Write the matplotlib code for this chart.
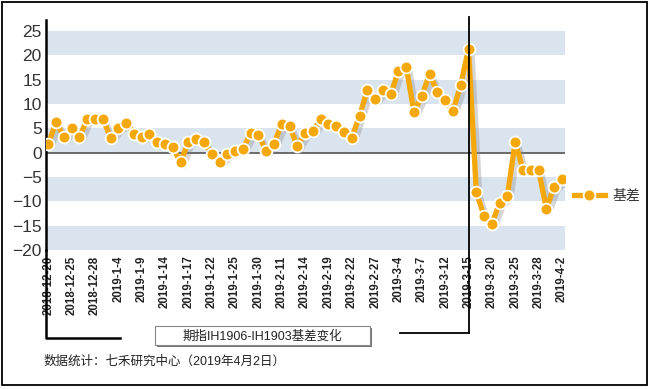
import numpy as np
import matplotlib
matplotlib.use("Agg")
import matplotlib.pyplot as plt
import matplotlib.patheffects as pe
from matplotlib.lines import Line2D
from matplotlib.patches import Rectangle
from matplotlib.transforms import blended_transform_factory

plt.rcParams['font.family'] = ['Liberation Sans', 'Noto Sans CJK SC']

# trading days 2018-12-20 .. 2019-4-2
dates = (['2018-12-%d' % d for d in [20, 21, 24, 25, 26, 27, 28]]
         + ['2019-1-%d' % d for d in [2, 3, 4, 7, 8, 9, 10, 11, 14, 15, 16, 17, 18,
                                       21, 22, 23, 24, 25, 28, 29, 30, 31]]
         + ['2019-2-%d' % d for d in [1, 11, 12, 13, 14, 15, 18, 19, 20, 21, 22,
                                       25, 26, 27, 28]]
         + ['2019-3-%d' % d for d in [1, 4, 5, 6, 7, 8, 11, 12, 13, 14, 15, 18, 19,
                                       20, 21, 22, 25, 26, 27, 28, 29]]
         + ['2019-4-1', '2019-4-2'])

basis = [1.9, 6.3, 3.2, 5.0, 3.2, 7.0, 7.0, 7.0, 3.1, 5.1, 6.2, 3.9, 3.3, 3.8, 2.3,
         1.9, 1.1, -2.0, 2.3, 2.9, 2.3, -0.2, -2.0, -0.2, 0.4, 0.8, 4.0, 3.6, 0.4,
         1.9, 5.9, 5.5, 1.3, 4.1, 4.4, 6.9, 5.9, 5.6, 4.2, 3.1, 7.6, 13.0, 11.0, 12.9,
         12.0, 16.8, 17.6, 8.3, 11.7, 16.2, 12.5, 10.9, 8.6, 14.0, 21.4, -8.1, -13.0,
         -14.6, -10.3, -8.8, 2.3, -3.5, -3.5, -3.5, -11.5, -7.1, -5.5]

split_label = '2019-3-15'
title = '期指IH1906-IH1903基差变化'
source = '数据统计：七禾研究中心（2019年4月2日）'

W, H = 654, 389
fig = plt.figure(figsize=(W / 100, H / 100), dpi=100)
ax = fig.add_axes([46 / W, 1 - 250 / H, (565 - 46) / W, (250 - 20) / H])

x = np.arange(len(dates))
orange = '#F4A80C'

# alternating bands
for lo in range(-20, 25, 10):
    ax.axhspan(lo, lo + 5, color='#DAE4EF', lw=0, zorder=0)
ax.axhline(0, color='#555555', lw=1.2, zorder=1)

ax.plot(x, basis, color=orange, lw=3.8, solid_capstyle='butt', zorder=3,
        path_effects=[pe.SimpleLineShadow(offset=(2.5, -2.5), shadow_color='#8a8a8a', alpha=0.35),
                      pe.Normal()])
ax.plot(x, basis, ls='none', marker='o', ms=8.5, mfc=orange, mec='white', mew=1.3, zorder=4)

ax.set_xlim(-0.3, 66.4)
ax.set_ylim(-20, 27.3)
ax.set_yticks(range(-20, 26, 5))
ax.set_xticks(x[::3])
ax.set_xticklabels(dates[::3], rotation=90, fontsize=8.3, fontweight='bold', color='#222222')
ax.tick_params(axis='x', length=0, pad=4)
ax.tick_params(axis='y', length=0, pad=3, labelsize=12.5, labelcolor='#333333')
for s in ['top', 'right', 'bottom']:
    ax.spines[s].set_visible(False)
ax.spines['left'].set_linewidth(1.8)
ax.spines['left'].set_color('black')

# split line at 2019-3-15 and brackets
xi = dates.index(split_label)
tr = blended_transform_factory(ax.transData, ax.transAxes)
ax.plot([xi, xi], [1.013, -0.361], color='black', lw=1.3, transform=tr, clip_on=False, zorder=5)
ax.plot([xi, 45.2], [-0.361, -0.361], color='black', lw=1.3, transform=tr, clip_on=False)
ax.plot([-0.3, -0.3, 9.2], [0, -0.383, -0.383], color='black', lw=1.8, transform=tr, clip_on=False)

# legend
h = Line2D([], [], color=orange, lw=3.8, marker='o', ms=8.5, mfc=orange, mec='white', mew=1.3)
fig.legend([h], ['基差'], loc='center left', bbox_to_anchor=(574 / W, 1 - 196 / H),
           frameon=False, handlelength=2.2, handletextpad=0.6, borderpad=0, borderaxespad=0,
           fontsize=10, labelcolor='#333333')

# title box
fig.patches.append(Rectangle((157 / W, 1 - 347 / H), 215 / W, 19 / H, transform=fig.transFigure,
                             facecolor='#777777', edgecolor='none'))
fig.patches.append(Rectangle((155 / W, 1 - 345 / H), 215 / W, 19 / H, transform=fig.transFigure,
                             facecolor='white', edgecolor='#888888', lw=0.8))
fig.text(262 / W, 1 - 336 / H, title, ha='center', va='center', fontsize=9, color='#222222')

fig.text(44 / W, 1 - 362 / H, source, ha='left', va='center', fontsize=9, color='#222222')

# outer frame
fig.patches.append(Rectangle((2 / W, 1 - 385 / H), 645 / W, 383 / H, transform=fig.transFigure,
                             facecolor='none', edgecolor='black', lw=1.3))

fig.savefig('out.png', dpi=100)
